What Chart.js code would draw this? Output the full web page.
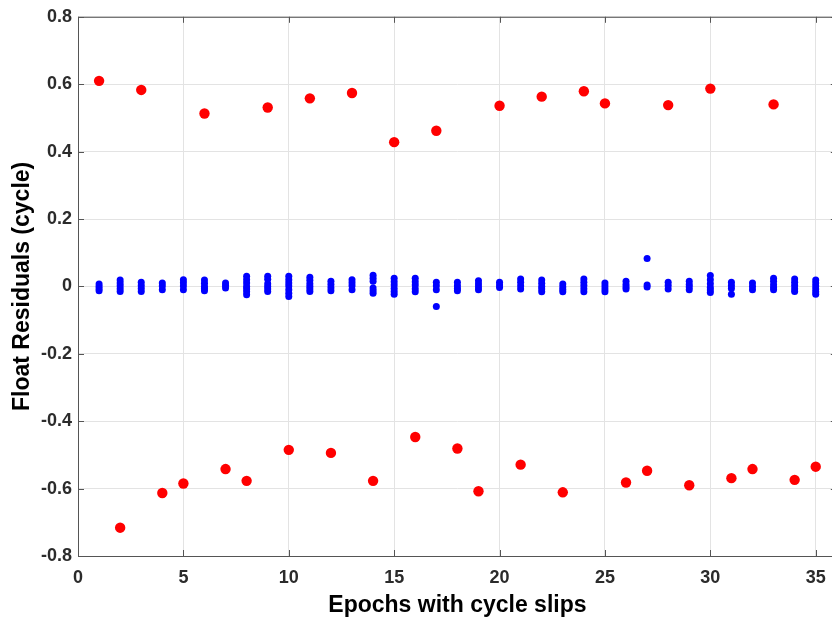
<!DOCTYPE html>
<html>
<head>
<meta charset="utf-8">
<title>Float Residuals</title>
<script src="https://cdn.jsdelivr.net/npm/chart.js@4.4.1/dist/chart.umd.min.js"></script>
<style>
    html, body {
        margin: 0;
        padding: 0;
        background: #ffffff;
        overflow: hidden;
    }
    .chart-wrap {
        width: 842px;
        height: 619px;
    }
</style>
</head>
<body>
<div class="chart-wrap">
    <canvas id="residualChart" width="842" height="619"></canvas>
</div>
<script>
// ================================
// Float residuals per epoch
// ================================

// Epochs with cycle slips (x axis)
const epochs = [1, 2, 3, 4, 5, 6, 7, 8, 9, 10, 11, 12, 13, 14, 15, 16, 17, 18,
    19, 20, 21, 22, 23, 24, 25, 26, 27, 28, 29, 30, 31, 32, 33, 34, 35];

// Residual of the slipped satellite, one per epoch (red)
const slipResiduals = [0.610, -0.716, 0.583, -0.613, -0.585, 0.513, -0.542, -0.577,
    0.531, -0.485, 0.558, -0.494, 0.574, -0.577, 0.428, -0.447, 0.462, -0.481,
    -0.608, 0.536, -0.529, 0.563, -0.611, 0.579, 0.543, -0.582, -0.547, 0.538,
    -0.590, 0.587, -0.569, -0.542, 0.540, -0.574, -0.535];

// Residuals of the other satellites, one list per epoch (blue)
const normalResiduals = [
    [0.007, 0.000, -0.007, -0.013],
    [0.019, 0.010, 0.002, -0.007, -0.015],
    [0.012, 0.003, -0.006, -0.015],
    [0.010, 0.001, -0.010],
    [0.020, 0.011, 0.001, -0.010],
    [0.019, 0.009, 0.000, -0.006, -0.013],
    [0.010, 0.003, -0.005],
    [0.030, 0.020, 0.010, 0.000, -0.008, -0.016, -0.025],
    [0.030, 0.021, 0.008, 0.000, -0.008, -0.015],
    [0.030, 0.020, 0.010, 0.001, -0.010, -0.020, -0.030],
    [0.027, 0.018, 0.008, 0.000, -0.008, -0.015],
    [0.015, 0.006, -0.004, -0.013],
    [0.020, 0.011, 0.002, -0.010],
    [0.033, 0.024, 0.015, -0.005, -0.013, -0.020],
    [0.024, 0.014, 0.004, -0.006, -0.015, -0.023],
    [0.024, 0.014, 0.004, -0.007, -0.016],
    [0.012, 0.002, -0.010, -0.060],
    [0.012, 0.002, -0.006, -0.013],
    [0.017, 0.007, -0.002, -0.010],
    [0.012, 0.004, -0.003],
    [0.022, 0.012, 0.002, -0.008],
    [0.019, 0.009, 0.000, -0.008, -0.016],
    [0.007, -0.002, -0.009, -0.016],
    [0.022, 0.012, 0.003, -0.007, -0.016],
    [0.010, 0.001, -0.008, -0.016],
    [0.015, 0.006, -0.002, -0.008],
    [0.083, 0.004, -0.002],
    [0.012, 0.003, -0.008],
    [0.015, 0.006, -0.002, -0.010],
    [0.032, 0.020, 0.008, -0.003, -0.011, -0.018],
    [0.012, 0.003, -0.006, -0.023],
    [0.010, 0.000, -0.010],
    [0.024, 0.015, 0.005, -0.003, -0.010],
    [0.022, 0.012, 0.003, -0.007, -0.015],
    [0.019, 0.010, 0.001, -0.008, -0.016, -0.023]
];

// Axis ranges and tick steps
const xRange = [0, 36];
const xStep = 5;
const yRange = [-0.8, 0.8];
const yStep = 0.2;

const tickFont = { family: "'Liberation Sans', Arial, sans-serif", size: 18, weight: 'bold' };
const titleFont = { family: "'Liberation Sans', Arial, sans-serif", size: 23, weight: 'bold' };

document.addEventListener('DOMContentLoaded', () => {
    createResidualChart();
});

function buildSlipPoints() {
    return epochs.map((e, i) => ({ x: e, y: slipResiduals[i] }));
}

function buildNormalPoints() {
    const points = [];
    epochs.forEach((e, i) => {
        normalResiduals[i].forEach(v => points.push({ x: e, y: v }));
    });
    return points;
}

// Box around the plot with inward ticks on all four sides
const boxPlugin = {
    id: 'axesBox',
    afterDraw(chart) {
        const { ctx, chartArea, scales } = chart;
        const len = 6;
        ctx.save();
        ctx.strokeStyle = '#555555';
        ctx.lineWidth = 1;
        ctx.strokeRect(chartArea.left + 0.5, chartArea.top + 0.5,
            chartArea.right - chartArea.left, chartArea.bottom - chartArea.top);

        ctx.beginPath();
        scales.x.ticks.forEach(t => {
            const px = Math.round(scales.x.getPixelForValue(t.value)) + 0.5;
            ctx.moveTo(px, chartArea.bottom);
            ctx.lineTo(px, chartArea.bottom - len);
            ctx.moveTo(px, chartArea.top);
            ctx.lineTo(px, chartArea.top + len);
        });
        scales.y.ticks.forEach(t => {
            const py = Math.round(scales.y.getPixelForValue(t.value)) + 0.5;
            ctx.moveTo(chartArea.left, py);
            ctx.lineTo(chartArea.left + len, py);
            ctx.moveTo(chartArea.right, py);
            ctx.lineTo(chartArea.right - len, py);
        });
        ctx.stroke();
        ctx.restore();
    }
};

function createResidualChart() {
    const ctx = document.getElementById('residualChart').getContext('2d');

    new Chart(ctx, {
        type: 'scatter',
        data: {
            datasets: [
                {
                    label: 'Slipped satellite',
                    data: buildSlipPoints(),
                    backgroundColor: '#ff0000',
                    borderWidth: 0,
                    pointRadius: 5.2
                },
                {
                    label: 'Other satellites',
                    data: buildNormalPoints(),
                    backgroundColor: '#0000ff',
                    borderWidth: 0,
                    pointRadius: 3.5
                }
            ]
        },
        options: {
            responsive: false,
            animation: false,
            layout: {
                padding: { top: 16, right: 4, left: 0, bottom: 0 }
            },
            plugins: {
                legend: { display: false },
                tooltip: { enabled: false }
            },
            scales: {
                x: {
                    type: 'linear',
                    min: xRange[0],
                    max: xRange[1],
                    afterFit: scale => { scale.height = 63; },
                    ticks: {
                        stepSize: xStep,
                        includeBounds: false,
                        padding: 11,
                        color: '#2b2b2b',
                        font: tickFont
                    },
                    grid: {
                        color: '#e3e3e3',
                        drawTicks: false
                    },
                    border: { display: false },
                    title: {
                        display: true,
                        text: 'Epochs with cycle slips',
                        color: '#000000',
                        font: titleFont,
                        padding: 0
                    }
                },
                y: {
                    min: yRange[0],
                    max: yRange[1],
                    afterFit: scale => { scale.width = 78; },
                    ticks: {
                        stepSize: yStep,
                        padding: 6,
                        color: '#2b2b2b',
                        font: tickFont,
                        callback: v => Math.abs(v) < 1e-9 ? '0' : v.toFixed(1)
                    },
                    grid: {
                        color: '#e3e3e3',
                        drawTicks: false
                    },
                    border: { display: false },
                    title: {
                        display: true,
                        text: 'Float Residuals (cycle)',
                        color: '#000000',
                        font: titleFont,
                        padding: { top: 9, bottom: 0 }
                    }
                }
            }
        },
        plugins: [boxPlugin]
    });
}
</script>
</body>
</html>
